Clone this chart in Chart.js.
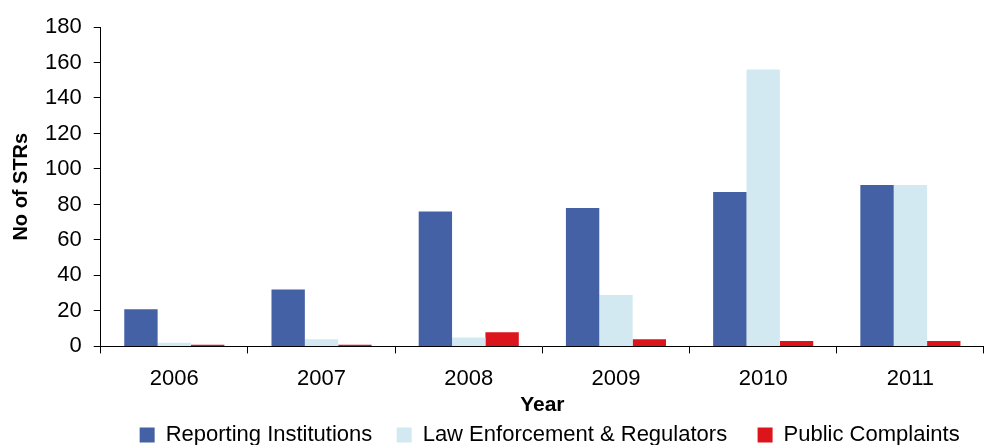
<!DOCTYPE html>
<html>
<head>
<meta charset="utf-8">
<script src="https://cdn.jsdelivr.net/npm/chart.js@4"></script>
<style>
  html, body { margin: 0; padding: 0; background: #fff; overflow: hidden; }
  #wrap { width: 984px; height: 456px; }
</style>
</head>
<body>
<div id="wrap"><canvas id="strChart"></canvas></div>
<script>
const years = ['2006', '2007', '2008', '2009', '2010', '2011'];
const reportingInstitutions = [21, 32, 76, 78, 87, 91];
const lawEnforcement = [2, 4, 5, 29, 156, 91];
const publicComplaints = [1, 1, 8, 4, 3, 3];
const yTicks = [0, 20, 40, 60, 80, 100, 120, 140, 160, 180];

const font = 'Liberation Sans, Arial, sans-serif';
// extra spaces after each legend label so the items sit apart like the original
const legendGaps = ['   ', '    ', '   '];

const ctx = document.getElementById('strChart').getContext('2d');

new Chart(ctx, {
    type: 'bar',
    data: {
        labels: years,
        datasets: [{
            label: 'Reporting Institutions',
            data: reportingInstitutions,
            backgroundColor: '#4561a6'
        }, {
            label: 'Law Enforcement & Regulators',
            data: lawEnforcement,
            backgroundColor: '#d2e9f1'
        }, {
            label: 'Public Complaints',
            data: publicComplaints,
            backgroundColor: '#dc141c'
        }]
    },
    options: {
        responsive: true,
        maintainAspectRatio: false,
        animation: false,
        layout: { padding: { top: 27, right: 0, left: 9, bottom: 0 } },
        datasets: {
            bar: { categoryPercentage: 0.68, barPercentage: 1 }
        },
        scales: {
            x: {
                grid: { display: true, drawOnChartArea: false, color: '#000', tickLength: 7, offset: true },
                border: { color: '#000', width: 1 },
                ticks: { color: '#000', font: { family: font, size: 22 }, padding: 12 },
                title: { display: true, text: 'Year', color: '#000', font: { family: font, size: 21, weight: 'bold' }, padding: { top: -11, bottom: 0 } }
            },
            y: {
                min: 0,
                max: 180,
                afterBuildTicks: axis => { axis.ticks = yTicks.map(v => ({ value: v })); },
                grid: { display: true, drawOnChartArea: false, color: '#000', tickLength: 7 },
                border: { color: '#000', width: 1 },
                ticks: { color: '#000', font: { family: font, size: 22 }, padding: 12 },
                title: { display: true, text: 'No of STRs', color: '#000', font: { family: font, size: 20, weight: 'bold' }, padding: { top: 0, bottom: 0 } }
            }
        },
        plugins: {
            legend: {
                position: 'bottom',
                align: 'end',
                labels: {
                    color: '#000',
                    font: { family: font, size: 22 },
                    boxWidth: 15,
                    boxHeight: 15,
                    padding: 6,
                    generateLabels: chart => {
                        const items = Chart.defaults.plugins.legend.labels.generateLabels(chart);
                        items.forEach((item, i) => { item.text = item.text + legendGaps[i]; item.lineWidth = 0; });
                        return items;
                    }
                }
            },
            tooltip: { enabled: false }
        }
    }
});
</script>
</body>
</html>
